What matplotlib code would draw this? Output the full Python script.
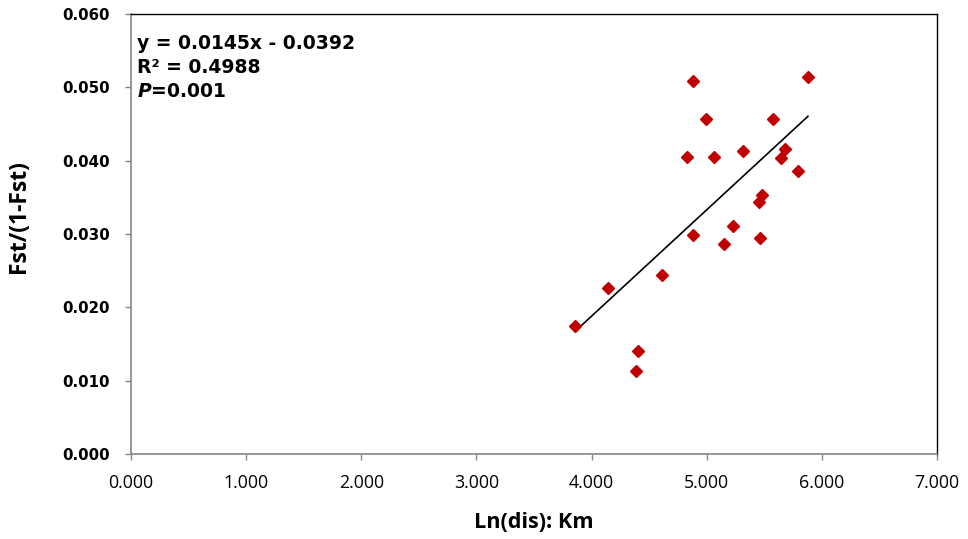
import matplotlib.pyplot as plt
from matplotlib.ticker import FormatStrFormatter

plt.rcParams['font.family'] = ['Open Sans', 'DejaVu Sans']

# Ln(distance) vs Fst/(1-Fst)
ln_dis = [3.857, 4.146, 4.400, 4.390, 4.616, 4.885, 4.828, 4.995, 4.885, 5.065,
          5.149, 5.230, 5.311, 5.459, 5.450, 5.482, 5.575, 5.676, 5.641, 5.792, 5.879]
fst_ratio = [0.0175, 0.0227, 0.0140, 0.0113, 0.0244, 0.0509, 0.0405, 0.0457, 0.0298, 0.0405,
             0.0286, 0.0311, 0.0413, 0.0294, 0.0343, 0.0353, 0.0457, 0.0416, 0.0403, 0.0386, 0.0514]

# trend line as given by the equation on the chart
slope = 0.0145
intercept = -0.0392

fig = plt.figure(figsize=(9.68, 5.39), dpi=100)
ax = fig.add_axes([131 / 968, 1 - 454 / 539, (937 - 131) / 968, (454 - 14) / 539])

ax.plot(ln_dis, fst_ratio, 'D', color='#C00000', markersize=6, zorder=3)
x_line = [min(ln_dis), max(ln_dis)]
ax.plot(x_line, [slope * x + intercept for x in x_line], color='black', linewidth=1.2)

ax.set_xlim(0, 7)
ax.set_ylim(0, 0.06)
ax.set_xticks([0, 1, 2, 3, 4, 5, 6, 7])
ax.set_yticks([0, 0.01, 0.02, 0.03, 0.04, 0.05, 0.06])
ax.xaxis.set_major_formatter(FormatStrFormatter('%.3f'))
ax.yaxis.set_major_formatter(FormatStrFormatter('%.3f'))

ax.tick_params(axis='both', colors='#868686', labelcolor='black', length=4.5, width=1)
ax.tick_params(axis='x', labelsize=12.8, pad=10)
ax.tick_params(axis='y', pad=10.5)
for lab in ax.get_yticklabels():
    lab.set_fontweight('bold')
    lab.set_family('DejaVu Sans')
    lab.set_fontsize(10.8)

for side in ['left', 'bottom']:
    ax.spines[side].set_color('#868686')
    ax.spines[side].set_linewidth(1.2)
for side in ['top', 'right']:
    ax.spines[side].set_color('black')
    ax.spines[side].set_linewidth(1)

ax.set_xlabel('Ln(dis): Km', fontsize=15.6, fontweight='bold', labelpad=14)
ax.set_ylabel('Fst/(1-Fst)', fontsize=16.5, fontweight='bold')
ax.yaxis.set_label_coords(-0.124, 0.539)

eq_font = dict(fontsize=13.5, fontweight='bold', va='top', family='DejaVu Sans')
ax.text(0.008, 0.955, 'y = 0.0145x - 0.0392', transform=ax.transAxes, **eq_font)
ax.text(0.008, 0.900, 'R² = 0.4988', transform=ax.transAxes, **eq_font)
ax.text(0.008, 0.845, '$\\boldsymbol{P}$=0.001', transform=ax.transAxes, **eq_font)

fig.savefig('out.png', dpi=100)
